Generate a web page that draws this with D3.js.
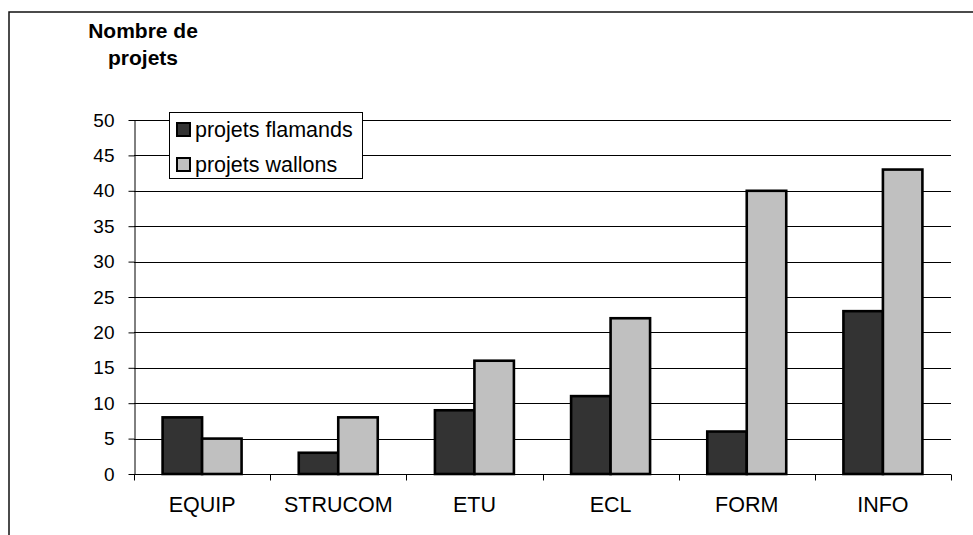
<!DOCTYPE html>
<html>
<head>
<meta charset="utf-8">
<script src="https://cdn.jsdelivr.net/npm/d3@7"></script>
<style>
  html, body { margin: 0; padding: 0; background: #fff; }
  svg { display: block; font-family: "Liberation Sans", Arial, sans-serif; }
</style>
</head>
<body>
<svg id="chart" width="973" height="535"></svg>
<script>
const categories = ["EQUIP", "STRUCOM", "ETU", "ECL", "FORM", "INFO"];
const seriesNames = ["projets flamands", "projets wallons"];
const flamands = [8, 3, 9, 11, 6, 23];
const wallons = [5, 8, 16, 22, 40, 43];
const yTicks = [0, 5, 10, 15, 20, 25, 30, 35, 40, 45, 50];
const titleLines = ["Nombre de", "projets"];
const colors = ["#333333", "#c0c0c0"];

(function () {
const svg = d3.select("#chart");
const pLeft = 134, pRight = 951, pTop = 120, pBottom = 474;

// outer frame
svg.append("path")
  .attr("d", "M9,535V12H973")
  .attr("fill", "none").attr("stroke", "#111").attr("stroke-width", 1.5);

const x = d3.scaleBand().domain(categories).range([pLeft, pRight]).padding(0);
const bw = x.bandwidth();
const x1 = d3.scaleBand().domain(seriesNames).range([bw / 2 - 0.29 * bw, bw / 2 + 0.29 * bw]).padding(0);
const y = d3.scaleLinear().domain([0, 50]).range([pBottom, pTop]);

// gridlines
svg.append("g").selectAll("line").data(yTicks).join("line")
  .attr("x1", pLeft).attr("x2", pRight)
  .attr("y1", d => Math.round(y(d)) + 0.5).attr("y2", d => Math.round(y(d)) + 0.5)
  .attr("stroke", "#000").attr("stroke-width", 1);

// y axis
const yAxis = d3.axisLeft(y).tickValues(yTicks).tickSize(6).tickSizeOuter(0).tickPadding(14);
const gy = svg.append("g").attr("transform", `translate(${pLeft + 0.5},0)`).call(yAxis);
gy.select(".domain").attr("stroke", "#000");
gy.selectAll(".tick line").attr("stroke", "#000");
gy.selectAll("text").attr("font-size", 19).attr("fill", "#000")
  .attr("font-family", "'Liberation Sans', Arial, sans-serif");

// bars
const data = categories.map((c, i) => ({ cat: c, vals: [flamands[i], wallons[i]] }));
const groups = svg.append("g").selectAll("g").data(data).join("g")
  .attr("transform", d => `translate(${x(d.cat)},0)`);
groups.selectAll("rect").data(d => d.vals.map((v, j) => ({ key: seriesNames[j], v, j }))).join("rect")
  .attr("x", d => x1(d.key))
  .attr("width", x1.bandwidth())
  .attr("y", d => y(d.v))
  .attr("height", d => y(0) - y(d.v))
  .attr("fill", d => colors[d.j])
  .attr("stroke", "#000").attr("stroke-width", 2.6);

// x axis
const gx = svg.append("g").attr("transform", `translate(0,${pBottom + 0.5})`);
gx.append("line").attr("x1", pLeft).attr("x2", pRight).attr("stroke", "#000");
const xTickPos = d3.range(categories.length + 1).map(i => pLeft + i * bw);
gx.selectAll("line.tk").data(xTickPos).join("line").attr("class", "tk")
  .attr("x1", d => Math.round(d) + 0.5).attr("x2", d => Math.round(d) + 0.5)
  .attr("y1", 0).attr("y2", 6).attr("stroke", "#000");
gx.selectAll("text").data(categories).join("text")
  .attr("x", d => x(d) + bw / 2).attr("y", 37)
  .attr("text-anchor", "middle").attr("font-size", 21.5).attr("fill", "#000")
  .text(d => d);

// axis title
svg.append("g").selectAll("text").data(titleLines).join("text")
  .attr("x", 143).attr("y", (d, i) => 38 + i * 27)
  .attr("text-anchor", "middle").attr("font-size", 21).attr("font-weight", "bold")
  .text(d => d);

// legend
const lg = svg.append("g");
lg.append("rect").attr("x", 169.5).attr("y", 112.5).attr("width", 193).attr("height", 66)
  .attr("fill", "#fff").attr("stroke", "#000").attr("stroke-width", 1);
seriesNames.forEach((s, i) => {
  lg.append("rect").attr("x", 177).attr("y", 123 + i * 35).attr("width", 13).attr("height", 13)
    .attr("fill", colors[i]).attr("stroke", "#000").attr("stroke-width", 2);
  lg.append("text").attr("x", 195).attr("y", 137 + i * 35)
    .attr("font-size", 21.5).attr("fill", "#000").text(s);
});
})();
</script>
</body>
</html>
